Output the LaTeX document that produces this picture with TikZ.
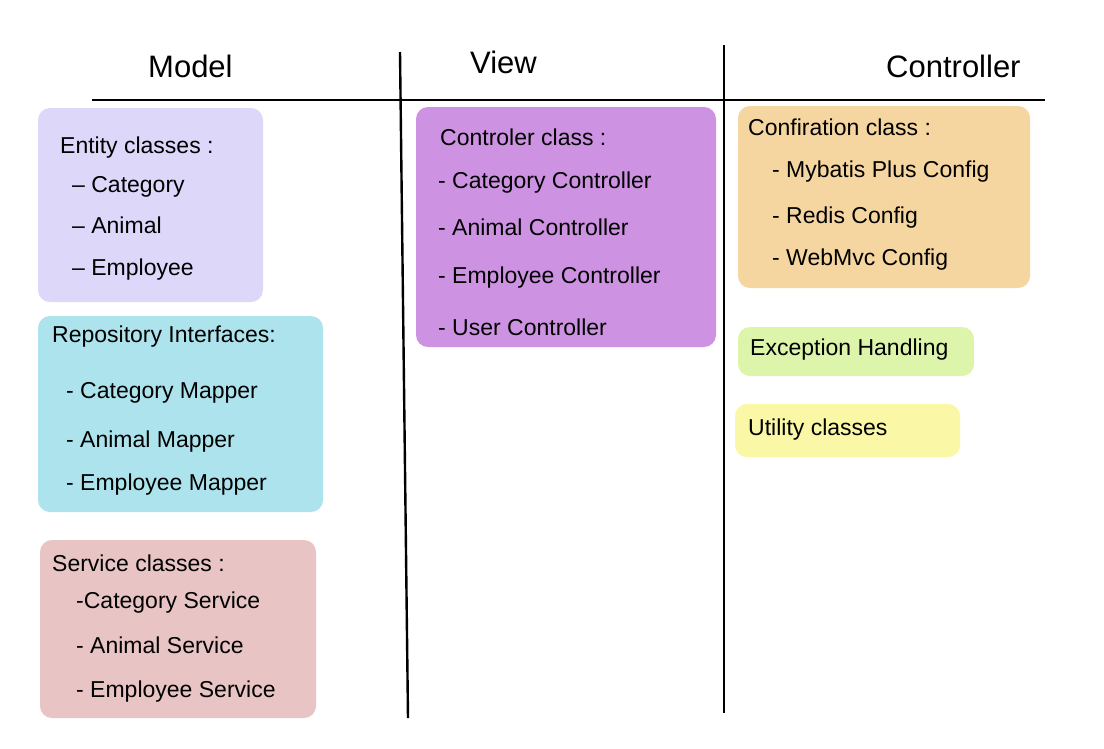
\documentclass[tikz,border=0pt]{standalone}
\usepackage{fontspec}
\setmainfont{Liberation Sans}
\definecolor{entityc}{RGB}{221,215,250}
\definecolor{repoc}{RGB}{172,227,236}
\definecolor{servc}{RGB}{232,196,196}
\definecolor{ctrlc}{RGB}{205,147,226}
\definecolor{confc}{RGB}{245,214,160}
\definecolor{excc}{RGB}{221,245,170}
\definecolor{utilc}{RGB}{250,248,166}
\tikzset{
  card/.style={rounded corners=12pt},
  head/.style={font=\fontsize{31}{34}\selectfont, anchor=west, inner sep=0pt},
  txt/.style={font=\fontsize{23}{26}\selectfont, anchor=west, inner sep=0pt, text height=16pt, text depth=5pt},
  rule/.style={line width=2.4pt, black}
}
\begin{document}
\begin{tikzpicture}[x=1pt,y=-1pt]
\useasboundingbox (0,0) rectangle (1104,748);
\fill[white] (0,0) rectangle (1104,748);
% column rules
\coordinate (hl) at (92,100);
\coordinate (hr) at (1045,100);
\coordinate (v1t) at (400,52);
\coordinate (v1b) at (408,718);
\coordinate (v2t) at (724,45);
\coordinate (v2b) at (724,713);
\draw[rule] (hl) -- (hr);
\draw[rule] (v1t) -- (v1b);
\draw[rule] (v2t) -- (v2b);
% headers
\node[head] (model) at (148,66) {Model};
\node[head] (view) at (470,62) {View};
\node[head] (ctrl) at (886,66) {Controller};
% boxes
\fill[entityc,card] (38,108) rectangle (263,302);
\fill[repoc,card] (38,316) rectangle (323,512);
\fill[servc,card] (40,540) rectangle (316,718);
\fill[ctrlc,card] (416,107) rectangle (716,347);
\fill[confc,card] (738,106) rectangle (1030,288);
\fill[excc,card] (738,327) rectangle (974,376);
\fill[utilc,card] (735,404) rectangle (960,457);
% Entity
\node[txt] (e0) at (60,148) {Entity classes :};
\node[txt] (e1) at (72,187) {– Category};
\node[txt] (e2) at (72,228) {– Animal};
\node[txt] (e3) at (72,270) {– Employee};
% Repository
\node[txt] (r0) at (52,337) {Repository Interfaces:};
\node[txt] (r1) at (66,393) {- Category Mapper};
\node[txt] (r2) at (66,442) {- Animal Mapper};
\node[txt] (r3) at (66,485) {- Employee Mapper};
% Service
\node[txt] (s0) at (52,566) {Service classes :};
\node[txt] (s1) at (76,603) {-Category Service};
\node[txt] (s2) at (76,648) {- Animal Service};
\node[txt] (s3) at (76,692) {- Employee Service};
% Controller
\node[txt] (c0) at (440,140) {Controler class :};
\node[txt] (c1) at (438,183) {- Category Controller};
\node[txt] (c2) at (438,230) {- Animal Controller};
\node[txt] (c3) at (438,278) {- Employee Controller};
\node[txt] (c4) at (438,330) {- User Controller};
% Config
\node[txt] (f0) at (748,130) {Confiration class :};
\node[txt] (f1) at (772,172) {- Mybatis Plus Config};
\node[txt] (f2) at (772,218) {- Redis Config};
\node[txt] (f3) at (772,260) {- WebMvc Config};
% Others
\node[txt] (x0) at (750,350) {Exception Handling};
\node[txt] (u0) at (748,430) {Utility classes};
\end{tikzpicture}
\end{document}
